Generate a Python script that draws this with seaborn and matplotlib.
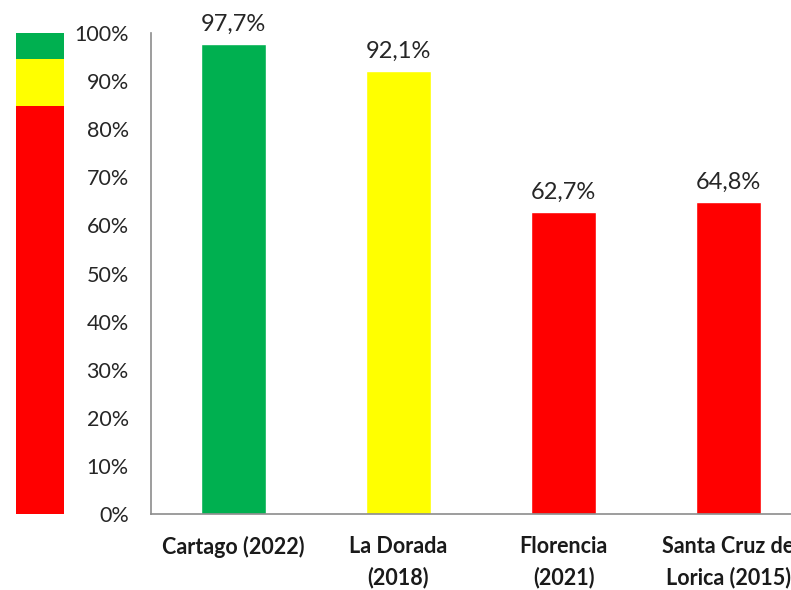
import pandas as pd
import seaborn as sns
import matplotlib.pyplot as plt

# data
cities = ["Cartago (2022)", "La Dorada\n(2018)", "Florencia\n(2021)", "Santa Cruz de\nLorica (2015)"]
values = [97.7, 92.1, 62.7, 64.8]
bar_colors = ["#00b050", "#ffff00", "#ff0000", "#ff0000"]

# colour scale band on the left (lower, upper bounds in %)
band_low = [0, 84.8, 94.6]
band_high = [84.8, 94.6, 100]
band_colors = ["#ff0000", "#ffff00", "#00b050"]

sns.set_theme(style="white")
plt.rcParams['font.family'] = ['Lato', 'DejaVu Sans']

W, H = 791, 590
fig = plt.figure(figsize=(W / 100, H / 100), dpi=100)

# main axes: left spine x=151, 0% at y=514, 100% at y=33, categories every 165 px
# (the last category runs past the right edge, as in the original)
left, bottom, top = 151, 514, 33
ax = fig.add_axes([left / W, 1 - bottom / H, 660 / W, (bottom - top) / H])

df = pd.DataFrame({"city": cities, "value": values})
sns.barplot(data=df, x="city", y="value", hue="city", palette=bar_colors,
            width=0.39, legend=False, saturation=1, ax=ax)

for i, v in enumerate(values):
    ax.text(i, v + 1.9, f"{v:.1f}%".replace(".", ","), ha="center", va="bottom",
            fontsize=17, color="#262626")

ax.set_xlim(-0.5, 3.5)
ax.set_ylim(0, 100)
ax.set_yticks(range(0, 101, 10))
ax.set_yticklabels([f"{t}%" for t in range(0, 101, 10)], fontsize=15.5, color="#262626")
ax.tick_params(axis="y", length=0, pad=16)
ax.tick_params(axis="x", length=0, pad=16)
for lab in ax.get_xticklabels():
    lab.set_fontweight("bold")
    lab.set_fontsize(15.5)
    lab.set_linespacing(1.55)
    lab.set_color("#1a1a1a")
ax.set_xlabel("")
ax.set_ylabel("")
for s in ["top", "right"]:
    ax.spines[s].set_visible(False)
for s in ["left", "bottom"]:
    ax.spines[s].set_color("#8c8c8c")
    ax.spines[s].set_linewidth(1.2)

# colour band
bx = fig.add_axes([16 / W, 1 - 519 / H, 48 / W, (519 - 33) / H])
for lo, hi, c in zip(band_low, band_high, band_colors):
    bx.bar(0, hi - lo, bottom=lo, width=1, color=c, linewidth=0)
bx.set_xlim(-0.5, 0.5)
bx.set_ylim(-1, 100)
bx.axis("off")

fig.savefig("out.png", dpi=100)
